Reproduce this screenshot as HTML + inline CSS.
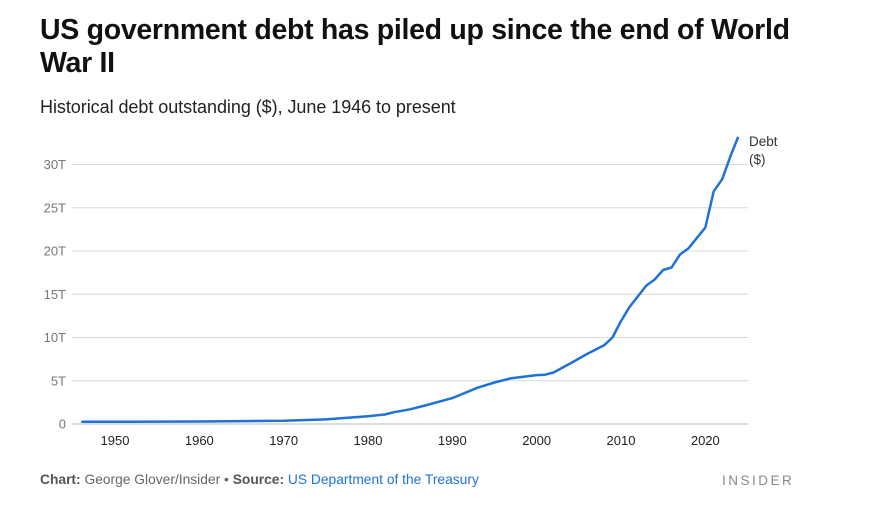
<!DOCTYPE html>
<html><head><meta charset="utf-8"><style>
body{margin:0;width:870px;height:515px;background:#fff;font-family:"Liberation Sans",sans-serif;overflow:hidden;position:relative}
h1{position:absolute;left:40px;top:14px;margin:0;font-size:28.5px;line-height:33px;font-weight:bold;color:#111;width:770px;letter-spacing:-0.3px}
.sub{position:absolute;left:40px;top:97px;font-size:18px;color:#222;letter-spacing:-0.05px}
.foot{position:absolute;left:40px;top:472px;font-size:13.8px;color:#666}
.foot b{font-weight:bold;color:#555}
.foot a{color:#1f72d6;text-decoration:none}
.ins{position:absolute;left:722px;top:473px;font-size:13.5px;letter-spacing:2.5px;color:#888}
svg{position:absolute;left:0;top:0}
</style></head><body>
<h1>US government debt has piled up since the end of World War II</h1>
<div class="sub">Historical debt outstanding ($), June 1946 to present</div>
<svg width="870" height="515" id="s" font-family="Liberation Sans, sans-serif"></svg>
<div class="foot"><b>Chart:</b> George Glover/Insider • <b>Source:</b> <a>US Department of the Treasury</a></div>
<div class="ins">INSIDER</div>
<script>
var s=document.getElementById('s'),h='';
function X(y){return 115+(y-1950)*8.433}
function Y(v){return 424-8.65*v}
for(var i=0;i<=6;i++){var y=Y(i*5);h+='<line x1="72" x2="748" y1="'+y+'" y2="'+y+'" stroke="'+(i?'#d8d8d8':'#bbb')+'" stroke-width="1"/>';
h+='<text x="66" y="'+(y+4.5)+'" text-anchor="end" font-size="13" fill="#777">'+(i?i*5+'T':'0')+'</text>';}
for(var yr=1950;yr<=2020;yr+=10)h+='<text x="'+X(yr)+'" y="445" text-anchor="middle" font-size="13" fill="#222">'+yr+'</text>';
var d=[[1946,.27],[1950,.26],[1960,.29],[1970,.37],[1975,.53],[1978,.75],[1980,.9],[1982,1.1],[1983,1.35],[1985,1.7],[1987,2.2],[1990,3.0],[1993,4.2],[1995,4.8],[1997,5.3],[2000,5.65],[2001,5.7],[2002,5.95],[2004,7.0],[2006,8.1],[2008,9.1],[2009,10.0],[2010,11.9],[2011,13.5],[2013,16.0],[2014,16.7],[2015,17.8],[2016,18.1],[2017,19.6],[2018,20.3],[2020,22.7],[2021,26.9],[2022,28.3],[2023,31.0],[2023.9,33.2]];
var p=d.map(function(a,i){return (i?'L':'M')+X(a[0]).toFixed(1)+' '+Y(a[1]).toFixed(1)}).join(' ');
h+='<path d="'+p+'" fill="none" stroke="#1f72d6" stroke-width="2.5" stroke-linejoin="round"/>';
h+='<text x="749" y="146" font-size="13.5" fill="#333">Debt</text><text x="749" y="164" font-size="13.5" fill="#333">($)</text>';
s.innerHTML=h;
</script>
</body></html>
